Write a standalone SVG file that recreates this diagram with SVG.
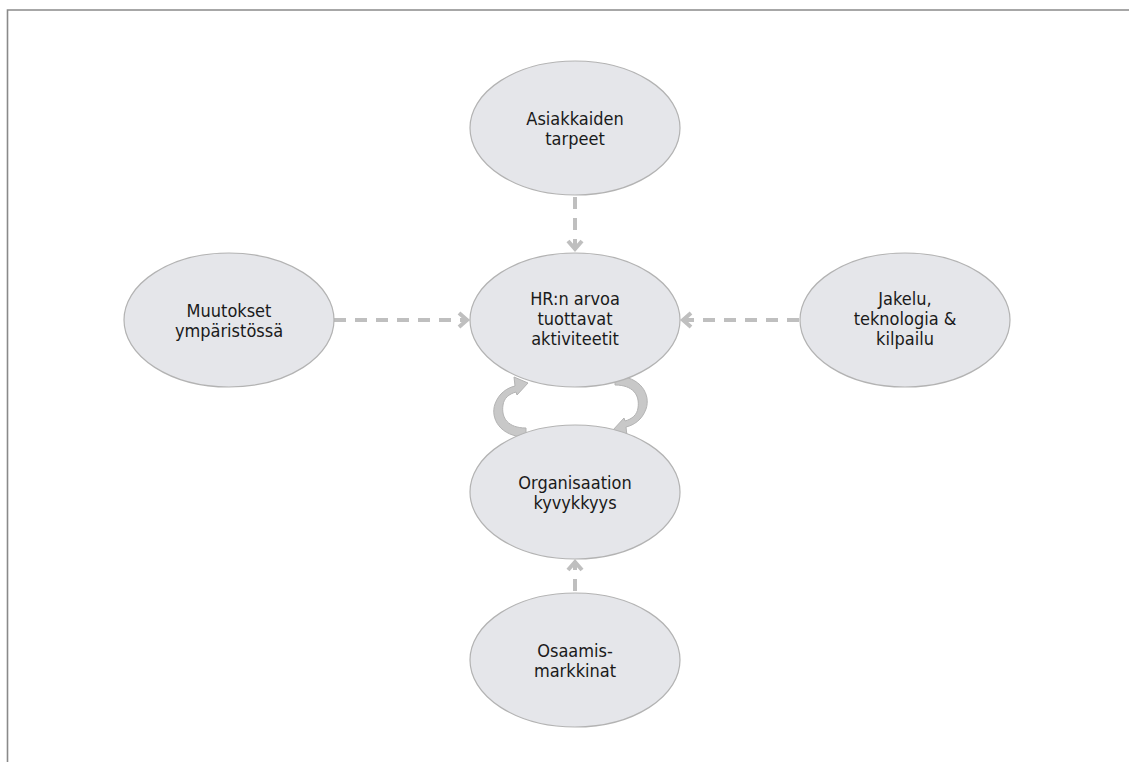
<svg xmlns="http://www.w3.org/2000/svg" width="1129" height="762" viewBox="0 0 1129 762">
  <style>
    .node ellipse { fill: #e5e6ea; stroke: #b3b3b3; stroke-width: 1.2; }
    .node text { font-family: "DejaVu Sans Condensed", "DejaVu Sans", sans-serif; font-stretch: condensed; font-size: 18px; fill: #1a1a1a; text-anchor: middle; }
    .conn { fill: none; stroke: #bfbfbf; stroke-width: 4; stroke-dasharray: 12 9; marker-end: url(#arr); }
    .cyc { fill: #c8c8c8; stroke: #b3b3b3; stroke-width: 1; }
  </style>
  <defs>
    <marker id="arr" viewBox="-13 -10 16 20" refX="0" refY="0" markerWidth="16" markerHeight="20" markerUnits="userSpaceOnUse" orient="auto">
      <path d="M-9,-7 L-1,0 L-9,7" fill="none" stroke="#bfbfbf" stroke-width="4"/>
    </marker>
  </defs>
  <rect width="1129" height="762" fill="#ffffff"/>
  <path d="M7.5,762 V10 H1129" fill="none" stroke="#8a8a8a" stroke-width="1.6"/>

  <g id="connectors">
    <path class="conn" d="M575,197 V250"/>
    <path class="conn" d="M334,320 H468"/>
    <path class="conn" d="M799,320 H682"/>
    <path class="conn" d="M575,591 V561"/>
    <path id="cycle-left" class="cyc" d="M526,437 C500,437 490,418 495,404 C499,393 507,388 515,386 L514,377 L528,383 L517,395 L516,392 C509,394 504,398 503,405 C501,418 508,428 526,428 Z"/>
    <path id="cycle-right" class="cyc" transform="rotate(180 570.5 406.5)" d="M526,437 C500,437 490,418 495,404 C499,393 507,388 515,386 L514,377 L528,383 L517,395 L516,392 C509,394 504,398 503,405 C501,418 508,428 526,428 Z"/>
  </g>

  <g id="node-asiakkaiden" class="node">
    <ellipse cx="575" cy="128" rx="105" ry="67"/>
    <text x="575" y="125">Asiakkaiden</text>
    <text x="575" y="145">tarpeet</text>
  </g>
  <g id="node-hr" class="node">
    <ellipse cx="575" cy="320" rx="105" ry="67"/>
    <text x="575" y="305">HR:n arvoa</text>
    <text x="575" y="325">tuottavat</text>
    <text x="575" y="345">aktiviteetit</text>
  </g>
  <g id="node-muutokset" class="node">
    <ellipse cx="229" cy="320" rx="105" ry="67"/>
    <text x="229" y="317">Muutokset</text>
    <text x="229" y="337">ympäristössä</text>
  </g>
  <g id="node-jakelu" class="node">
    <ellipse cx="905" cy="320" rx="105" ry="67"/>
    <text x="905" y="305">Jakelu,</text>
    <text x="905" y="325">teknologia &amp;</text>
    <text x="905" y="345">kilpailu</text>
  </g>
  <g id="node-organisaatio" class="node">
    <ellipse cx="575" cy="492" rx="105" ry="67"/>
    <text x="575" y="489">Organisaation</text>
    <text x="575" y="509">kyvykkyys</text>
  </g>
  <g id="node-osaamis" class="node">
    <ellipse cx="575" cy="660" rx="105" ry="67"/>
    <text x="575" y="657">Osaamis-</text>
    <text x="575" y="677">markkinat</text>
  </g>
</svg>
